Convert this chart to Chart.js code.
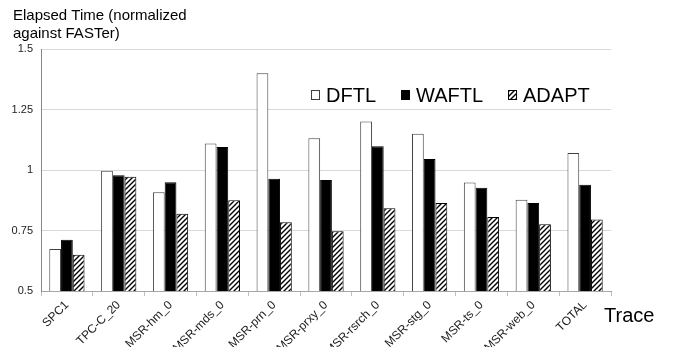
<!DOCTYPE html>
<html>
<head>
<meta charset="utf-8">
<script src="https://cdn.jsdelivr.net/npm/chart.js@4"></script>
<style>
  body { margin: 0; background: #fff; }
  canvas { display: block; }
</style>
</head>
<body>
<canvas id="elapsedChart" width="686" height="347"></canvas>
<script>
const traces = ['SPC1', 'TPC-C_20', 'MSR-hm_0', 'MSR-mds_0', 'MSR-prn_0', 'MSR-prxy_0',
    'MSR-rsrch_0', 'MSR-stg_0', 'MSR-ts_0', 'MSR-web_0', 'TOTAL'];
const dftl  = [0.674, 0.997, 0.908, 1.110, 1.400, 1.131, 1.200, 1.150, 0.948, 0.877, 1.070];
const waftl = [0.712, 0.978, 0.949, 1.095, 0.964, 0.959, 1.098, 1.045, 0.927, 0.864, 0.939];
const adapt = [0.650, 0.972, 0.819, 0.875, 0.784, 0.747, 0.842, 0.864, 0.806, 0.776, 0.795];
const yTicks = [0.5, 0.75, 1, 1.25, 1.5];

document.addEventListener('DOMContentLoaded', function() {
    // diagonal hatch for ADAPT
    function makeHatch() {
        const c = document.createElement('canvas');
        c.width = 5; c.height = 5;
        const g = c.getContext('2d');
        g.fillStyle = '#fff';
        g.fillRect(0, 0, 5, 5);
        g.strokeStyle = '#000';
        g.lineWidth = 1.4;
        g.beginPath();
        g.moveTo(-1, 6); g.lineTo(6, -1);
        g.moveTo(-1, 1); g.lineTo(1, -1);
        g.moveTo(4, 6); g.lineTo(6, 4);
        g.stroke();
        return g.createPattern(c, 'repeat');
    }

    const ctx = document.getElementById('elapsedChart').getContext('2d');
    const hatch = makeHatch();
    const font = 'Arial, "Liberation Sans", sans-serif';

    // title, axis name and legend drawn on top
    const extras = {
        id: 'extras',
        afterDraw(chart) {
            const c = chart.ctx;
            c.save();
            c.fillStyle = '#000';
            c.textAlign = 'left';
            c.textBaseline = 'alphabetic';
            c.font = '15px ' + font;
            c.fillText('Elapsed Time (normalized', 13, 20);
            c.fillText('against FASTer)', 13, 38);
            c.font = '20px ' + font;
            c.fillText('Trace', 604, 322);

            // legend
            let x = 311;
            const y = 95;
            chart.data.datasets.forEach(ds => {
                c.fillStyle = ds.backgroundColor;
                c.fillRect(x, y - 5, 8, 9);
                c.strokeStyle = ds.borderColor;
                c.lineWidth = 1;
                c.strokeRect(x + 0.5, y - 4.5, 8, 9);
                c.fillStyle = '#000';
                c.font = '20px ' + font;
                c.textBaseline = 'middle';
                c.fillText(ds.label, x + 15, y + 1);
                x += 15 + c.measureText(ds.label).width + 25;
            });
            c.restore();
        }
    };

    new Chart(ctx, {
        type: 'bar',
        data: {
            labels: traces,
            datasets: [
                { label: 'DFTL', data: dftl, backgroundColor: '#ffffff', borderColor: '#404040', borderWidth: 1 },
                { label: 'WAFTL', data: waftl, backgroundColor: '#000000', borderColor: '#000000', borderWidth: 1 },
                { label: 'ADAPT', data: adapt, backgroundColor: hatch, borderColor: '#000000', borderWidth: 1 }
            ]
        },
        options: {
            responsive: false,
            animation: false,
            layout: { padding: { left: 0, right: 75, top: 49, bottom: 0 } },
            datasets: { bar: { categoryPercentage: 0.68, barPercentage: 1 } },
            plugins: {
                legend: { display: false },
                title: { display: false },
                tooltip: { enabled: false }
            },
            scales: {
                x: {
                    afterFit(scale) { scale.height = 56; },
                    grid: { drawOnChartArea: false, drawTicks: true, tickLength: 5, color: '#bfbfbf' },
                    border: { color: '#a6a6a6' },
                    ticks: {
                        minRotation: 45, maxRotation: 45, autoSkip: false, padding: 2,
                        color: '#222', font: { family: font, size: 12 }
                    }
                },
                y: {
                    min: 0.5, max: 1.5,
                    afterFit(scale) { scale.width = 41; },
                    afterBuildTicks(scale) { scale.ticks = yTicks.map(v => ({ value: v })); },
                    grid: { color: '#d9d9d9', drawTicks: false },
                    border: { color: '#868686' },
                    ticks: {
                        padding: 8, color: '#222', font: { family: font, size: 11 },
                        callback: v => String(v)
                    }
                }
            }
        },
        plugins: [extras]
    });
});
</script>
</body>
</html>
